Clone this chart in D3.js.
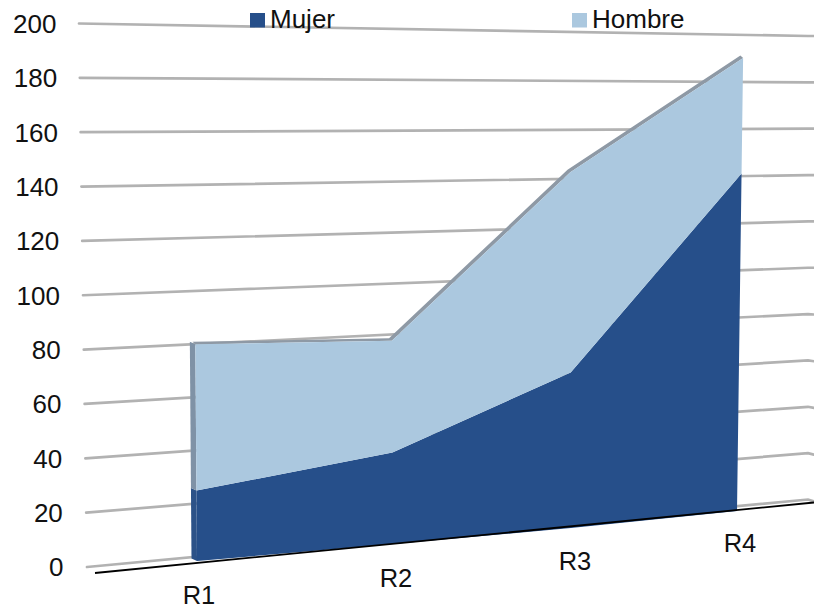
<!DOCTYPE html>
<html>
<head>
<meta charset="utf-8">
<script src="https://cdn.jsdelivr.net/npm/d3@7/dist/d3.min.js"></script>
<style>
  html, body { margin: 0; padding: 0; background: #fff; }
  text { font-family: "Liberation Sans", Arial, sans-serif; fill: #111; }
</style>
</head>
<body>
<svg id="chart" width="814" height="609"></svg>
<script>
const categories = ["R1", "R2", "R3", "R4"];
const seriesNames = ["Mujer", "Hombre"];
const mujer = [27, 36, 63, 140];
const hombre = [56, 44, 81, 48];
const valueTicks = [0, 20, 40, 60, 80, 100, 120, 140, 160, 180, 200];

const colours = { Mujer: "#264f8a", Hombre: "#abc8df" };
const sideColours = { Mujer: "#2c5288", Hombre: "#7f92a6" };

const svg = d3.select("#chart");
const maxValue = 200;

// Back wall: each gridline runs from its left-end scale to its right-end scale.
const wallLeftY = d3.scaleLinear([0, maxValue], [567, 23.5]);
const wallLeftX = d3.scaleLinear([0, maxValue], [87, 79]);
const wallRightY = d3.scaleLinear([0, maxValue], [499.5, 36]);
const wallBend = d3.scaleLinear([0, 100, maxValue], [2, 0, 0]);
const wallCornerX = 808, wallEndX = 814;

// Front plane of the series: per-category vertical scales give the perspective.
const baseY = d3.scaleOrdinal(categories, [561, 544, 528, 511]);
const topY = d3.scaleOrdinal(categories, [39, 36, 34, 29]);
const baseX = d3.scaleOrdinal(categories, [197, 393, 571, 737]);
const topX = d3.scaleOrdinal(categories, [193, 390, 570, 743.5]);
const projectY = (cat, v) => d3.scaleLinear([0, maxValue], [baseY(cat), topY(cat)])(v);
const projectX = (cat, v) => d3.scaleLinear([0, maxValue], [baseX(cat), topX(cat)])(v);

// Horizontal gridlines
const gridLine = d3.line();
svg.append("g").selectAll("path").data(valueTicks).join("path")
  .attr("d", v => gridLine([
    [wallLeftX(v), wallLeftY(v)],
    [wallCornerX, wallRightY(v)],
    [wallEndX, wallRightY(v) + wallBend(v)]
  ]))
  .attr("fill", "none")
  .attr("stroke", "#b2b2b2")
  .attr("stroke-width", 2.7)
  .attr("stroke-linecap", "round");

// Stacked series
const rows = categories.map((c, i) => ({ cat: c, Mujer: mujer[i], Hombre: hombre[i] }));
const stacked = d3.stack().keys(seriesNames)(rows);

const depth = { x: -5.5, y: -2.5 };

// Top face running along the upper edge of the stack
const upper = stacked[stacked.length - 1];
const upperPts = upper.map(d => [projectX(d.data.cat, d[1]), projectY(d.data.cat, d[1])]);
const backPts = upperPts.slice().reverse().map(p => [p[0] + depth.x * 0.5, p[1] + depth.y]);
svg.append("path")
  .attr("d", d3.line()(upperPts.concat(backPts)) + "Z")
  .attr("fill", "#8e99a5");

// Left end face of each series
svg.append("g").selectAll("path").data(stacked).join("path")
  .attr("d", s => {
    const d = s[0], c = d.data.cat;
    const lo = [projectX(c, d[0]), projectY(c, d[0])];
    const hi = [projectX(c, d[1]), projectY(c, d[1])];
    return d3.line()([lo, hi, [hi[0] + depth.x, hi[1] + depth.y], [lo[0] + depth.x, lo[1] + depth.y]]) + "Z";
  })
  .attr("fill", s => sideColours[s.key]);

// Front faces
const area = d3.area()
  .x0(d => projectX(d.data.cat, d[0]))
  .y0(d => projectY(d.data.cat, d[0]))
  .x1(d => projectX(d.data.cat, d[1]))
  .y1(d => projectY(d.data.cat, d[1]));
svg.append("g").selectAll("path").data(stacked).join("path")
  .attr("d", area)
  .attr("fill", s => colours[s.key]);

// Floor axis
const floorX = d3.scaleLinear([0, 1], [95, 814]);
const floorY = d3.scaleLinear([0, 1], [573, 502.5]);
svg.append("path")
  .attr("d", d3.line()([[floorX(0), floorY(0)], [floorX(1), floorY(1)]]))
  .attr("stroke", "#000")
  .attr("stroke-width", 1.8);

// Value labels follow the left ends of the gridlines
const labelRight = d3.scaleLinear([0, maxValue], [63.5, 56.5]);
svg.append("g").selectAll("text").data(valueTicks).join("text")
  .attr("x", v => labelRight(v))
  .attr("y", v => wallLeftY(v) + 9.3)
  .attr("text-anchor", "end")
  .attr("font-size", 26)
  .text(v => v);

// Category labels
const catLabelX = d3.scaleOrdinal(categories, [199, 396, 575, 740]);
const catLabelY = d3.scaleOrdinal(categories, [604, 587, 570, 552]);
svg.append("g").selectAll("text").data(categories).join("text")
  .attr("x", c => catLabelX(c))
  .attr("y", c => catLabelY(c))
  .attr("text-anchor", "middle")
  .attr("font-size", 25.5)
  .text(c => c);

// Legend
const legendX = d3.scaleOrdinal(seriesNames, [250, 572]);
const legend = svg.append("g").selectAll("g").data(seriesNames).join("g");
legend.append("rect")
  .attr("x", n => legendX(n)).attr("y", 13)
  .attr("width", 15).attr("height", 14.5)
  .attr("fill", n => colours[n]);
legend.append("text")
  .attr("x", n => legendX(n) + 20).attr("y", 28)
  .attr("font-size", 26)
  .text(n => n);
</script>
</body>
</html>
